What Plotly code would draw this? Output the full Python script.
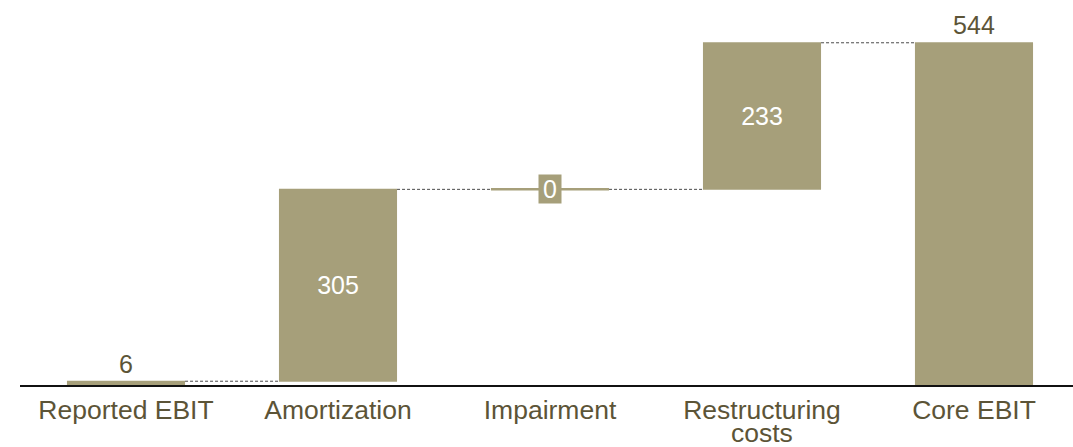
import plotly.graph_objects as go

categories = ["Reported EBIT", "Amortization", "Impairment", "Restructuring costs", "Core EBIT"]
tick_labels = ["Reported EBIT", "Amortization", "Impairment", "Restructuring", "Core EBIT"]
tick_second_line = ["", "", "", "costs", ""]
values = [6, 305, 0, 233, 544]
measures = ["absolute", "relative", "relative", "relative", "total"]
labels = ["6", "305", "", "233", "544"]
positions = ["outside", "inside", "inside", "inside", "outside"]

BAR = "#A69F7A"
TXT = "#5C5437"
FONT = "Liberation Sans, Arial, sans-serif"
BAR_W = 0.557

fig = go.Figure()
fig.add_trace(go.Waterfall(
    x=categories, y=values, measure=measures,
    text=labels, textposition=positions,
    insidetextanchor="middle",
    insidetextfont=dict(color="white", size=25, family=FONT),
    outsidetextfont=dict(color=TXT, size=25, family=FONT),
    increasing=dict(marker=dict(color=BAR, line=dict(color=BAR, width=0))),
    decreasing=dict(marker=dict(color=BAR, line=dict(color=BAR, width=0))),
    totals=dict(marker=dict(color=BAR, line=dict(color=BAR, width=0))),
    connector=dict(mode="between", line=dict(color="#4A4A4A", width=1, dash="3px,2px")),
    width=BAR_W,
    cliponaxis=False,
    hoverinfo="skip",
))

# zero-height Impairment bar drawn as a thin line at its running level
level = sum(values[:2])
idx = 2
fig.add_shape(type="line", xref="x", yref="y",
              x0=idx - BAR_W / 2, x1=idx + BAR_W / 2, y0=level, y1=level,
              line=dict(color=BAR, width=2.5))
fig.add_annotation(x=categories[idx], y=level, text=str(values[idx]), showarrow=False,
                   font=dict(color="white", size=25, family=FONT),
                   bgcolor=BAR, borderpad=0, width=22, height=28,
                   xref="x", yref="y")

# second line of wrapped tick labels
for cat, extra in zip(categories, tick_second_line):
    if extra:
        fig.add_annotation(x=cat, y=0, xref="x", yref="paper", yanchor="middle",
                           yshift=-48, text=extra, showarrow=False,
                           font=dict(color=TXT, size=26.5, family=FONT))

fig.update_layout(
    width=1073, height=447,
    margin=dict(l=20, r=0, t=0, b=62),
    plot_bgcolor="white", paper_bgcolor="white",
    showlegend=False,
    font=dict(family=FONT, color=TXT, size=25),
    xaxis=dict(showline=True, linecolor="#111111", linewidth=2, ticks="",
               showgrid=False, tickfont=dict(size=26.5, color=TXT, family=FONT),
               tickmode="array", tickvals=categories, ticktext=tick_labels,
               range=[-0.5, 4.467], automargin=False),
    yaxis=dict(visible=False, range=[0, 612], showgrid=False, zeroline=False,
               automargin=False),
)

fig.write_html("out.html", config={"displayModeBar": False},
               post_script="document.body.style.margin='0';")
